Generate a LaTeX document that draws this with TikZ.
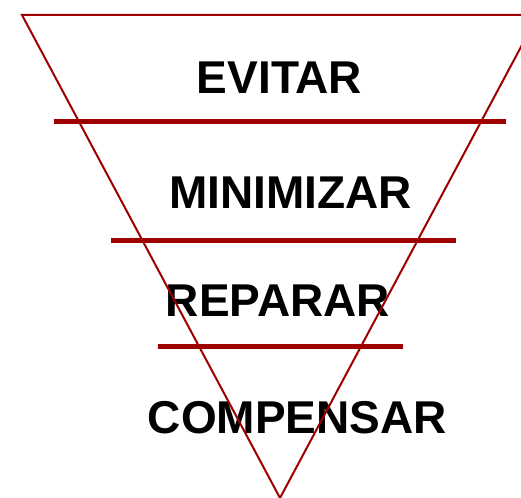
\documentclass[tikz,border=0pt]{standalone}
\usepackage{fontspec}
\setmainfont{Liberation Sans}
\definecolor{dred}{RGB}{158,0,0}
\begin{document}
\begin{tikzpicture}[x=1pt,y=-1pt,
  lbl/.style={font=\fontsize{46}{54}\selectfont\bfseries, text=black, inner sep=0pt, anchor=center},
  edge/.style={draw=dred, line width=2pt, line join=miter},
  bar/.style={draw=dred, line width=5pt}]
\useasboundingbox (0,0) rectangle (521,497);
\clip (0,0) rectangle (521,497);
\fill[white] (0,0) rectangle (521,497);
% labels
\node[lbl] (evitar) at (279.5,78) {EVITAR};
\node[lbl] (minimizar) at (290.5,192.5) {MINIMIZAR};
\node[lbl] (reparar) at (278,301) {REPARAR};
\node[lbl] (compensar) at (297.5,418) {COMPENSAR};
% triangle
\coordinate (tl) at (22,15);
\coordinate (tr) at (538,15);
\coordinate (ap) at (280,498);
\draw[edge] (tl) -- (tr) -- (ap) -- cycle;
% bars
\coordinate (b1l) at (54,122);  \coordinate (b1r) at (506,122);
\coordinate (b2l) at (111,240); \coordinate (b2r) at (456,240);
\coordinate (b3l) at (158,346); \coordinate (b3r) at (403,346);
\draw[bar] (b1l) -- (b1r);
\draw[bar] (b2l) -- (b2r);
\draw[bar] (b3l) -- (b3r);
\end{tikzpicture}
\end{document}
